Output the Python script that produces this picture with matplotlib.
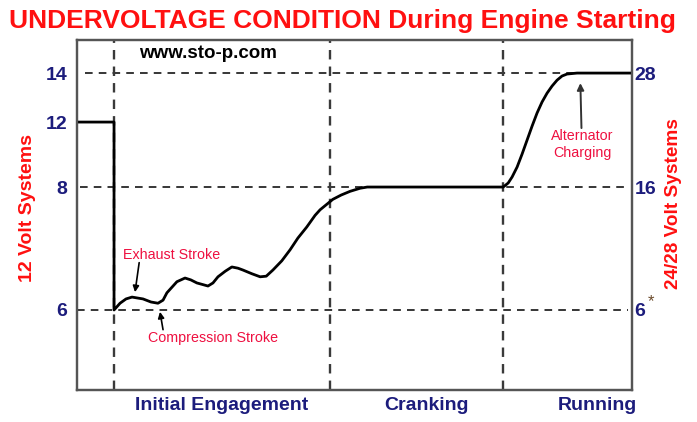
import numpy as np
import matplotlib
matplotlib.use("Agg")
import matplotlib.pyplot as plt
import matplotlib.transforms as mtransforms

plt.rcParams['font.family'] = ['Liberation Sans', 'DejaVu Sans']

# ---- data ----
t = [0, 6.67, 6.67, 7.75, 8.83, 9.91, 11.89, 13.33, 14.59, 15.5, 16.2, 17.1, 18.0,
     19.46, 20.5, 21.6, 23.6, 24.5, 25.4, 26.7, 27.9, 29.0, 29.9, 31.5, 33.0, 34.1,
     35.3, 36.9, 38.4, 39.8, 41.4, 42.9, 43.8, 46.1, 47.6, 49.2, 51.0, 52.3, 76.8,
     77.7, 78.4, 79.3, 80.2, 81.1, 82.0, 82.9, 83.8, 84.7, 85.6, 86.5, 87.4, 88.3,
     90.1, 99.6]
volts = [12, 12, 6.0, 6.11, 6.18, 6.21, 6.18, 6.13, 6.11, 6.16, 6.28, 6.37, 6.46,
         6.52, 6.49, 6.44, 6.39, 6.44, 6.54, 6.63, 6.70, 6.68, 6.65, 6.59, 6.54, 6.55,
         6.65, 6.80, 6.98, 7.17, 7.35, 7.54, 7.63, 7.80, 7.87, 7.93, 7.98, 8.0, 8.0,
         8.25, 8.62, 9.23, 10.03, 10.89, 11.75, 12.37, 12.82, 13.18, 13.47, 13.71, 13.88, 13.96,
         14.0, 14.0]

left_ticks = [6, 8, 12, 14]
left_labels = ['6', '8', '12', '14']
right_ticks = [6, 8, 14]
right_labels = ['6', '16', '28']
ref_levels = [14, 8, 6]
ref_starts = [1.4, 0.5, 0.0]
phase_bounds = [6.67, 45.6, 76.8]
phases = ['Initial Engagement', 'Cranking', 'Running']
phase_centers = [26.1, 62.9, 93.7]

# schematic (non-linear) voltage scale
VK = [0, 6, 8, 12, 14, 20]
PK = [-0.826, 0.2286, 0.58, 0.7657, 0.9057, 1.3257]
fwd = lambda v: np.interp(v, VK, PK)
inv = lambda p: np.interp(p, PK, VK)

NAVY = '#1c1c7c'
RED = '#ff1010'
PINK = '#ee1040'

fig = plt.figure(figsize=(6.97, 4.22), dpi=100)
ax = fig.add_axes([0.1105, 0.0758, 0.7962, 0.8294])
ax.set_yscale('function', functions=(fwd, inv))
ax.set_xlim(0, 100)
ax.set_ylim(4.699, 15.35)

for lvl, s in zip(ref_levels, ref_starts):
    ax.hlines(lvl, s, 99.3, colors='black', linestyles=(0, (5, 4)), linewidth=1.1, zorder=1)
for b in phase_bounds:
    ax.axvline(b, color='#3a3a3a', linestyle=(0, (4, 3)), linewidth=1.7, zorder=1)

ax.plot(t, volts, color='black', linewidth=2.0, zorder=3, solid_joinstyle='round')

ax.set_yticks(left_ticks)
ax.set_yticklabels(left_labels)
ax.set_xticks([])
ax.yaxis.set_minor_locator(matplotlib.ticker.NullLocator())
ax.tick_params(axis='y', length=0, pad=7, labelsize=14, labelcolor=NAVY)
for lab in ax.get_yticklabels():
    lab.set_fontweight('bold')

ax2 = ax.twinx()
ax2.set_yscale('function', functions=(fwd, inv))
ax2.set_ylim(ax.get_ylim())
ax2.set_yticks(right_ticks)
ax2.set_yticklabels(right_labels)
ax2.yaxis.set_minor_locator(matplotlib.ticker.NullLocator())
ax2.tick_params(axis='y', length=0, pad=2, labelsize=14, labelcolor=NAVY)
for lab in ax2.get_yticklabels():
    lab.set_fontweight('bold')

for a in (ax, ax2):
    for sp in a.spines.values():
        sp.set_color('#555555')
        sp.set_linewidth(1.6)

ax.text(103.5, 6.14, '*', color='#6b4a2a', fontsize=12, ha='center', va='center',
        clip_on=False)

ax.text(11.2, 14.78, 'www.sto-p.com', color='black', fontsize=13.5, fontweight='bold',
        ha='left', va='center')

arrow_kw = dict(arrowstyle='-|>', color='black', lw=1.2, shrinkA=0, shrinkB=0,
                mutation_scale=9)
ax.text(17.1, 6.89, 'Exhaust Stroke', color=PINK, fontsize=10.3, ha='center', va='center')
ax.annotate('', xy=(10.45, 6.29), xytext=(11.2, 6.77), arrowprops=arrow_kw)
ax.text(24.5, 5.54, 'Compression Stroke', color=PINK, fontsize=10.3, ha='center', va='center')
ax.annotate('', xy=(14.95, 5.97), xytext=(15.5, 5.68), arrowprops=arrow_kw)
ax.text(91.0, 10.6, 'Alternator\nCharging', color=PINK, fontsize=10.3, ha='center',
        va='center', linespacing=1.3)
ax.annotate('', xy=(90.7, 13.59), xytext=(90.9, 11.63),
            arrowprops=dict(arrowstyle='-|>', color='#333333', lw=1.4, shrinkA=0,
                            shrinkB=0, mutation_scale=10))

trans = mtransforms.blended_transform_factory(ax.transData, ax.transAxes)
for name, c in zip(phases, phase_centers):
    ax.text(c, -0.043, name, transform=trans, ha='center', va='center',
            fontsize=14, fontweight='bold', color=NAVY)

fig.text(0.492, 0.950, 'UNDERVOLTAGE CONDITION During Engine Starting',
         ha='center', va='center', fontsize=19, fontweight='bold', color=RED)
fig.text(0.040, 0.507, '12 Volt Systems', rotation=90, ha='center', va='center',
         fontsize=14, fontweight='bold', color=RED)
fig.text(0.966, 0.517, '24/28 Volt Systems', rotation=90, ha='center', va='center',
         fontsize=13.7, fontweight='bold', color=RED)

fig.savefig('out.png', dpi=100)
